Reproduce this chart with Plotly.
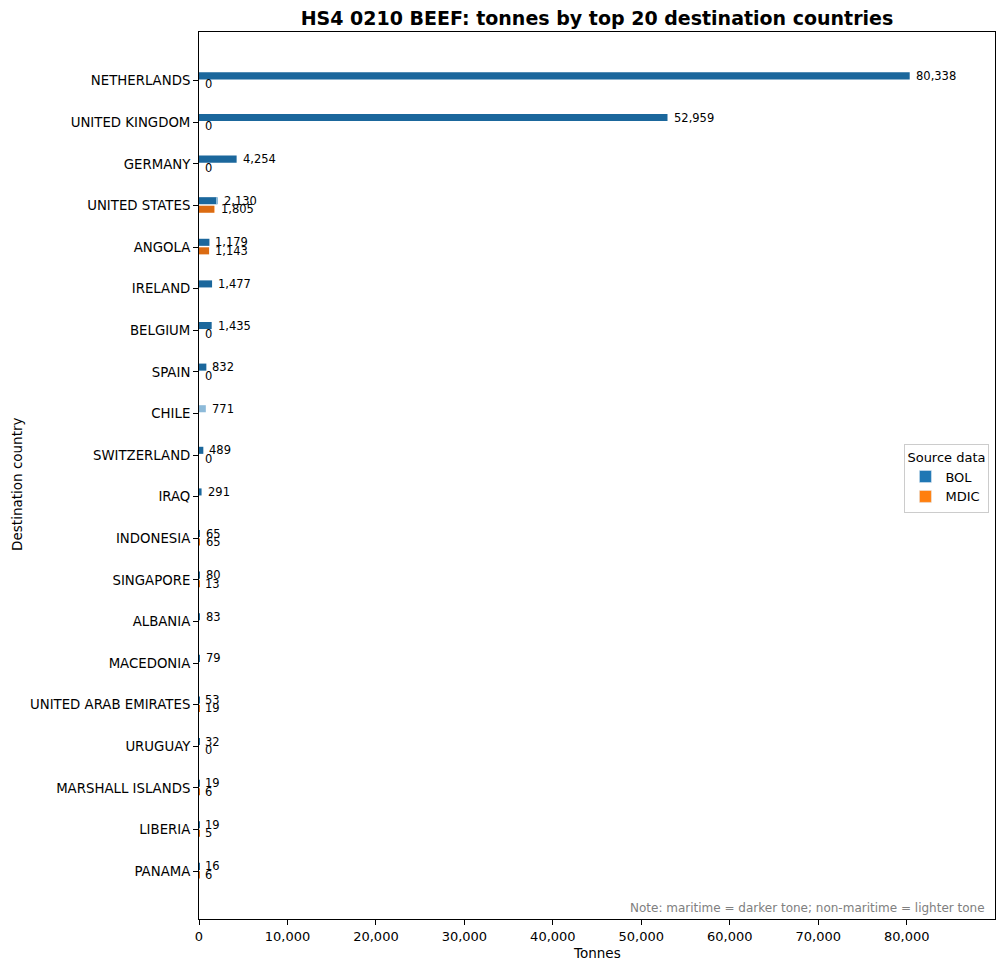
"""Horizontal bar chart: HS4 0210 beef tonnes by destination, BOL vs MDIC."""

import plotly.graph_objects as go

countries = [
    "NETHERLANDS", "UNITED KINGDOM", "GERMANY", "UNITED STATES", "ANGOLA",
    "IRELAND", "BELGIUM", "SPAIN", "CHILE", "SWITZERLAND", "IRAQ",
    "INDONESIA", "SINGAPORE", "ALBANIA", "MACEDONIA", "UNITED ARAB EMIRATES",
    "URUGUAY", "MARSHALL ISLANDS", "LIBERIA", "PANAMA",
]
# tonnes; None = no MDIC record for that country
bol_maritime = [80338, 52959, 4254, 2000, 1179, 1477, 1435, 832, 0, 489, 291,
                65, 80, 83, 79, 53, 32, 19, 19, 16]
bol_nonmaritime = [0, 0, 0, 130, 0, 0, 0, 0, 771, 0, 0,
                   0, 0, 0, 0, 0, 0, 0, 0, 0]
mdic_maritime = [0, 0, 0, 1700, 1143, None, 0, 0, None, 0, None,
                 65, 13, None, None, 19, 0, 6, 5, 6]
mdic_nonmaritime = [0, 0, 0, 105, 0, None, 0, 0, None, 0, None,
                    0, 0, None, None, 0, 0, 0, 0, 0]

BOL_DARK, BOL_LIGHT = "#1b679c", "#8dbad9"
MDIC_DARK, MDIC_LIGHT = "#db6b12", "#ffbf86"
OFF_BOL, OFF_MDIC, BAR_W = -0.115, 0.09, 0.17

idx = list(range(len(countries)))
y_bol = [i + OFF_BOL for i in idx]
y_mdic = [i + OFF_MDIC for i in idx]
mdic_base = [m if m is not None else 0 for m in mdic_maritime]

fig = go.Figure()
fig.add_trace(go.Bar(x=bol_maritime, y=y_bol, orientation="h", width=BAR_W,
                     marker=dict(color=BOL_DARK, line=dict(width=0)),
                     showlegend=False))
fig.add_trace(go.Bar(x=bol_nonmaritime, y=y_bol, base=bol_maritime,
                     orientation="h", width=BAR_W,
                     marker=dict(color=BOL_LIGHT, line=dict(width=0)),
                     showlegend=False))
fig.add_trace(go.Bar(x=mdic_maritime, y=y_mdic, orientation="h", width=BAR_W,
                     marker=dict(color=MDIC_DARK, line=dict(width=0)),
                     showlegend=False))
fig.add_trace(go.Bar(x=mdic_nonmaritime, y=y_mdic, base=mdic_base,
                     orientation="h", width=BAR_W,
                     marker=dict(color=MDIC_LIGHT, line=dict(width=0)),
                     showlegend=False))

# legend-only entries
fig.add_trace(go.Bar(x=[None], y=[None], name="BOL", orientation="h",
                     marker=dict(color="#1f77b4")))
fig.add_trace(go.Bar(x=[None], y=[None], name="MDIC", orientation="h",
                     marker=dict(color="#ff7f0e")))

annotations = []
lab_font = dict(family="DejaVu Sans", size=11.5, color="black")
for i in idx:
    tot = bol_maritime[i] + bol_nonmaritime[i]
    annotations.append(dict(x=tot, y=y_bol[i], xref="x", yref="y",
                            text=f"{tot:,.0f}", showarrow=False,
                            xanchor="left", xshift=4, font=lab_font))
    if mdic_maritime[i] is not None:
        tot = mdic_maritime[i] + mdic_nonmaritime[i]
        annotations.append(dict(x=tot, y=y_mdic[i], xref="x", yref="y",
                                text=f"{tot:,.0f}", showarrow=False,
                                xanchor="left", xshift=4, font=lab_font))

annotations += [
    dict(text="Note: maritime = darker tone; non-maritime = lighter tone",
         x=0.99, y=0.012, xref="paper", yref="paper", xanchor="right",
         yanchor="middle", showarrow=False,
         font=dict(family="DejaVu Sans", size=12, color="#808080")),
    dict(text="Destination country", x=-0.228, y=0.49, xref="paper",
         yref="paper", textangle=-90, showarrow=False,
         xanchor="center", yanchor="middle",
         font=dict(family="DejaVu Sans", size=13.5, color="black")),
    dict(text="Tonnes", x=0.5, y=-0.038, xref="paper", yref="paper",
         xanchor="center", yanchor="middle", showarrow=False,
         font=dict(family="DejaVu Sans", size=13.5, color="black")),
]

x_max = max(a + b for a, b in zip(bol_maritime, bol_nonmaritime)) * 1.12

fig.update_layout(
    width=1004, height=969,
    margin=dict(l=199, r=9, t=32, b=50),
    plot_bgcolor="white", paper_bgcolor="white",
    barmode="overlay",
    font=dict(family="DejaVu Sans", size=13, color="black"),
    title=dict(text="<b>HS4 0210 BEEF: tonnes by top 20 destination countries</b>",
               x=0.5, xref="paper", y=1 - 18 / 969, yref="container",
               yanchor="middle", xanchor="center",
               font=dict(family="DejaVu Sans", size=19, color="black")),
    xaxis=dict(range=[0, x_max], tickvals=list(range(0, 80001, 10000)),
               tickformat=",d", showgrid=False, zeroline=False,
               showline=True, linecolor="black", linewidth=1, mirror=True,
               ticks="outside", ticklen=5, tickcolor="black",
               tickfont=dict(size=13), automargin=False),
    yaxis=dict(range=[20.15, -1.17], tickvals=idx, ticktext=countries,
               showgrid=False, zeroline=False,
               showline=True, linecolor="black", linewidth=1, mirror=True,
               ticks="outside", ticklen=5, tickcolor="black",
               tickfont=dict(size=13.3), automargin=False),
    legend=dict(title=dict(text="Source data", font=dict(size=13)),
                x=0.993, y=0.497, xanchor="right", yanchor="middle",
                bgcolor="white", bordercolor="#cccccc", borderwidth=1,
                font=dict(size=13), traceorder="normal"),
    annotations=annotations,
)

fig.write_html("out.html", config={"displayModeBar": False},
               post_script="document.body.style.margin = '0';")
